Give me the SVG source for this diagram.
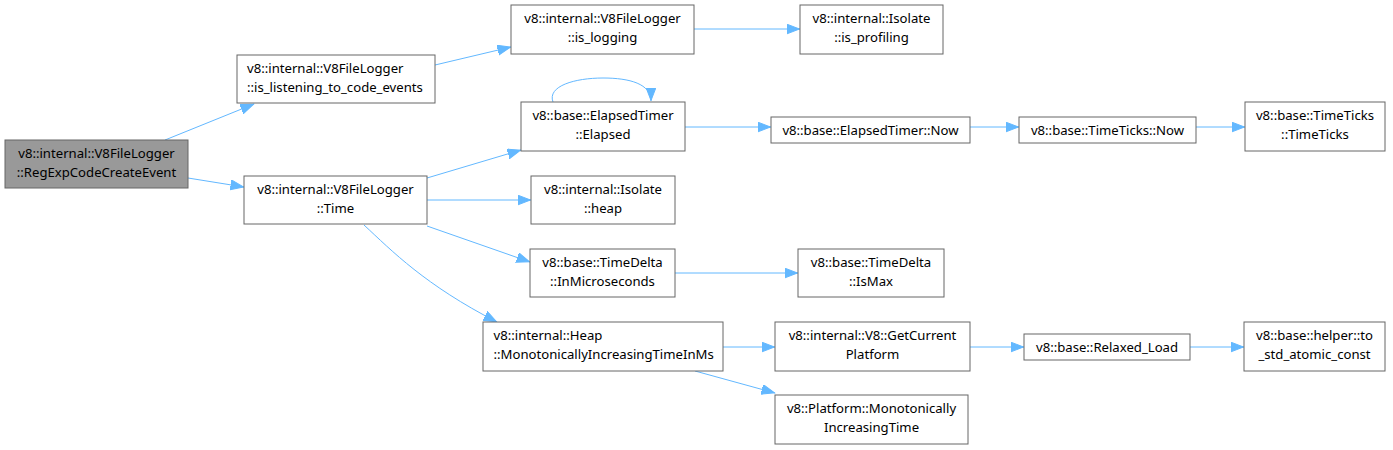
<svg xmlns="http://www.w3.org/2000/svg" width="1393" height="450" viewBox="0 0 1393 450">
<style>
.n rect{fill:#ffffff;stroke:#666666;stroke-width:1}
.n.g rect{fill:#999999}
.n text{font-family:"Noto Sans","DejaVu Sans",sans-serif;font-size:13.15px;fill:#000000}
.c{text-anchor:middle}
.e path{fill:none;stroke:#63b8ff;stroke-width:1}
</style>
<defs>
<marker id="ah" markerUnits="userSpaceOnUse" markerWidth="15" markerHeight="12" refX="13.5" refY="5" orient="auto">
<path d="M0,0 L13,5 L0,10 z" fill="#63b8ff" stroke="#63b8ff" stroke-width="1"/>
</marker>
</defs>
<g class="e" id="edges">
<path d="M165,140 L254,104" marker-end="url(#ah)"/>
<path d="M188,178 L244,187" marker-end="url(#ah)"/>
<path d="M435,65 L511,47" marker-end="url(#ah)"/>
<path d="M694,29 L800,29" marker-end="url(#ah)"/>
<path d="M553,102 C547,86 575,78 603,78 C630,78 651,84 651,101" marker-end="url(#ah)"/>
<path d="M685,127 L771,127" marker-end="url(#ah)"/>
<path d="M970,127 L1019,127" marker-end="url(#ah)"/>
<path d="M1196,127 L1245,127" marker-end="url(#ah)"/>
<path d="M427,178 L521,150" marker-end="url(#ah)"/>
<path d="M427,200 L531,200" marker-end="url(#ah)"/>
<path d="M427,226 L530,262" marker-end="url(#ah)"/>
<path d="M364,225 C392,251 425,285 497,322" marker-end="url(#ah)"/>
<path d="M675,273 L798,273" marker-end="url(#ah)"/>
<path d="M723,347 L775,347" marker-end="url(#ah)"/>
<path d="M970,347 L1024,347" marker-end="url(#ah)"/>
<path d="M1190,347 L1244,347" marker-end="url(#ah)"/>
<path d="M695,371 L775,393" marker-end="url(#ah)"/>
</g>
<g class="n g" id="node-RegExpCodeCreateEvent">
<rect x="5" y="140" width="183" height="48"/>
<text class="c" x="96.5" y="157.5">v8::internal::V8FileLogger</text>
<text class="c" x="96.5" y="176.5">::RegExpCodeCreateEvent</text>
</g>
<g class="n" id="node-is_listening">
<rect x="237" y="55" width="198" height="48"/>
<text x="247" y="72.5">v8::internal::V8FileLogger</text>
<text x="247" y="91.5">::is_listening_to_code_events</text>
</g>
<g class="n" id="node-Time">
<rect x="244" y="176" width="183" height="48"/>
<text class="c" x="335.5" y="193.5">v8::internal::V8FileLogger</text>
<text class="c" x="335.5" y="212.5">::Time</text>
</g>
<g class="n" id="node-is_logging">
<rect x="511" y="5" width="183" height="49"/>
<text class="c" x="602.5" y="23">v8::internal::V8FileLogger</text>
<text class="c" x="602.5" y="42">::is_logging</text>
</g>
<g class="n" id="node-is_profiling">
<rect x="800" y="5" width="143" height="49"/>
<text class="c" x="871.5" y="23">v8::internal::Isolate</text>
<text class="c" x="871.5" y="42">::is_profiling</text>
</g>
<g class="n" id="node-Elapsed">
<rect x="521" y="102" width="164" height="49"/>
<text class="c" x="603" y="120">v8::base::ElapsedTimer</text>
<text class="c" x="603" y="139">::Elapsed</text>
</g>
<g class="n" id="node-ElapsedTimerNow">
<rect x="771" y="117" width="199" height="26"/>
<text class="c" x="870.5" y="134.5">v8::base::ElapsedTimer::Now</text>
</g>
<g class="n" id="node-TimeTicksNow">
<rect x="1019" y="117" width="177" height="26"/>
<text class="c" x="1107.5" y="134.5">v8::base::TimeTicks::Now</text>
</g>
<g class="n" id="node-TimeTicks">
<rect x="1245" y="102" width="140" height="49"/>
<text class="c" x="1315" y="120">v8::base::TimeTicks</text>
<text class="c" x="1315" y="139">::TimeTicks</text>
</g>
<g class="n" id="node-heap">
<rect x="531" y="176" width="144" height="48"/>
<text class="c" x="603" y="193.5">v8::internal::Isolate</text>
<text class="c" x="603" y="212.5">::heap</text>
</g>
<g class="n" id="node-InMicroseconds">
<rect x="530" y="249" width="145" height="48"/>
<text class="c" x="602.5" y="266.5">v8::base::TimeDelta</text>
<text class="c" x="602.5" y="285.5">::InMicroseconds</text>
</g>
<g class="n" id="node-IsMax">
<rect x="798" y="249" width="146" height="48"/>
<text class="c" x="871" y="266.5">v8::base::TimeDelta</text>
<text class="c" x="871" y="285.5">::IsMax</text>
</g>
<g class="n" id="node-HeapTime">
<rect x="483" y="322" width="240" height="49"/>
<text x="493.5" y="340">v8::internal::Heap</text>
<text x="493.5" y="359">::MonotonicallyIncreasingTimeInMs</text>
</g>
<g class="n" id="node-GetCurrentPlatform">
<rect x="775" y="322" width="195" height="49"/>
<text class="c" x="872.5" y="340">v8::internal::V8::GetCurrent</text>
<text class="c" x="872.5" y="359">Platform</text>
</g>
<g class="n" id="node-Relaxed_Load">
<rect x="1024" y="334" width="166" height="26"/>
<text class="c" x="1107" y="351.5">v8::base::Relaxed_Load</text>
</g>
<g class="n" id="node-to_std_atomic_const">
<rect x="1244" y="322" width="141" height="49"/>
<text class="c" x="1314.5" y="340">v8::base::helper::to</text>
<text class="c" x="1314.5" y="359">_std_atomic_const</text>
</g>
<g class="n" id="node-PlatformTime">
<rect x="775" y="395" width="193" height="49"/>
<text class="c" x="871.5" y="413">v8::Platform::Monotonically</text>
<text class="c" x="871.5" y="432">IncreasingTime</text>
</g>
</svg>
